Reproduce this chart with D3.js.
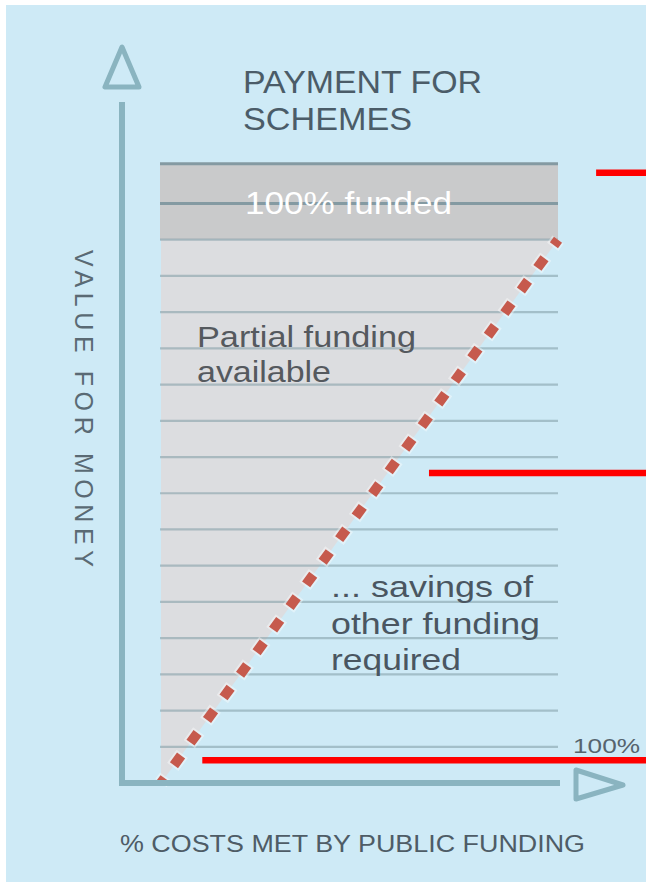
<!DOCTYPE html>
<html>
<head>
<meta charset="utf-8">
<script src="https://cdn.jsdelivr.net/npm/d3@7"></script>
<style>
  html, body { margin: 0; padding: 0; background: #ffffff; }
  svg { display: block; }
  text { font-family: "Liberation Sans", Arial, sans-serif; }
</style>
</head>
<body>
<div id="chart"></div>
<script>
// grid levels of "value for money" (chart units)
const gridLevels = [1, 2, 3, 4, 5, 6, 7, 8, 9, 10, 11, 12, 13, 14, 15]
const bandLines = [16, 17.1]
const fundedBand = [15, 17.1]
// % costs met by public funding vs value threshold
const fundingCost = [0, 100]
const fundingValue = [0, 15]
// red marker bars: value level and where they start (% cost)
const markerValue = [16.85, 8.56, 0.63]
const markerStart = [109.6, 67.5, 10.4]

const W = 646, H = 882
const bg = '#ceeaf6'
const axisColor = '#8ab4c0'

const x = d3.scaleLinear().domain([0, 100]).range([161, 558])
const y = d3.scaleLinear().domain([0, 16]).range([783, 203.5])

const svg = d3.select('#chart')
  .append('svg')
  .attr('width', W)
  .attr('height', H)

svg.append('rect')
  .attr('x', 6).attr('y', 5)
  .attr('width', W - 6).attr('height', H - 5)
  .attr('fill', bg)

// dark "100% funded" band
svg.append('rect')
  .attr('x', x(0) - 1)
  .attr('y', y(fundedBand[1]))
  .attr('width', x(100) - x(0) + 1)
  .attr('height', y(fundedBand[0]) - y(fundedBand[1]))
  .attr('fill', '#c9cacb')

// partial funding area (above the line)
const pts = fundingCost.map((c, i) => [c, fundingValue[i]])
const area = [pts[0], pts[1], [0, fundingValue[1]]]
svg.append('path')
  .attr('d', d3.line().x(d => x(d[0])).y(d => y(d[1]))(area) + 'Z')
  .attr('fill', '#dcdde0')

// grid lines
svg.selectAll('line.grid')
  .data(gridLevels)
  .enter()
  .append('line')
  .attr('class', 'grid')
  .attr('x1', x(0) - 1).attr('x2', x(100))
  .attr('y1', d => y(d)).attr('y2', d => y(d))
  .attr('stroke', '#7f9aa4')
  .attr('stroke-opacity', 0.55)
  .attr('stroke-width', 2.2)

svg.selectAll('line.band')
  .data(bandLines)
  .enter()
  .append('line')
  .attr('class', 'band')
  .attr('x1', x(0) - 1).attr('x2', x(100))
  .attr('y1', d => y(d)).attr('y2', d => y(d))
  .attr('stroke', '#849aa2')
  .attr('stroke-width', 3)

// dashed funding line
const lineGen = d3.line().x(d => x(d[0])).y(d => y(d[1]))
svg.append('path')
  .attr('d', lineGen(pts))
  .attr('fill', 'none')
  .attr('stroke', '#ffffff')
  .attr('stroke-opacity', 0.4)
  .attr('stroke-width', 14)
  .attr('stroke-dasharray', '16 12')
  .attr('stroke-dashoffset', 8)
svg.append('path')
  .attr('d', lineGen(pts))
  .attr('fill', 'none')
  .attr('stroke', '#c65a4d')
  .attr('stroke-width', 10)
  .attr('stroke-dasharray', '12 16')
  .attr('stroke-dashoffset', 6)

// axes
svg.append('line')
  .attr('x1', 122).attr('x2', 122)
  .attr('y1', 102).attr('y2', y(0) + 3)
  .attr('stroke', axisColor).attr('stroke-width', 6)
svg.append('line')
  .attr('x1', 119).attr('x2', x(100) + 2)
  .attr('y1', y(0)).attr('y2', y(0))
  .attr('stroke', axisColor).attr('stroke-width', 6)

svg.append('polygon')
  .attr('points', '122,47 105,87 139,87')
  .attr('fill', 'none')
  .attr('stroke', axisColor).attr('stroke-width', 5)
  .attr('stroke-linejoin', 'round')
svg.append('polygon')
  .attr('points', '576,770 576,799 623,785')
  .attr('fill', 'none')
  .attr('stroke', axisColor).attr('stroke-width', 5)
  .attr('stroke-linejoin', 'round')

// texts
const addText = (t, tx, ty, size, color, len) => {
  return svg.append('text')
    .attr('x', tx).attr('y', ty)
    .attr('font-size', size)
    .attr('fill', color)
    .attr('textLength', len)
    .attr('lengthAdjust', 'spacingAndGlyphs')
    .text(t)
}

addText('PAYMENT FOR', 243, 93, 31, '#4b5c68', 239)
addText('SCHEMES', 243, 130, 31, '#4b5c68', 169)
addText('100% funded', 245, 214, 32, '#ffffff', 207)
addText('Partial funding', 197, 347, 29, '#55595e', 219)
addText('available', 197, 382, 29, '#55595e', 134)
addText('... savings of', 331, 597, 30, '#4a5661', 202)
addText('other funding', 331, 634, 30, '#4a5661', 209)
addText('required', 331, 670, 30, '#4a5661', 130)
addText('100%', 573, 753, 20, '#56646e', 67)
addText('% COSTS MET BY PUBLIC FUNDING', 120, 852, 23, '#4e5c66', 465)

svg.append('text')
  .attr('transform', 'translate(75,250) rotate(90)')
  .attr('font-size', 25)
  .attr('fill', '#5a6a74')
  .attr('textLength', 317)
  .attr('lengthAdjust', 'spacing')
  .text('VALUE FOR MONEY')

// red marker bars
svg.selectAll('line.marker')
  .data(markerValue)
  .enter()
  .append('line')
  .attr('class', 'marker')
  .attr('x1', (d, i) => x(markerStart[i]))
  .attr('x2', W)
  .attr('y1', d => y(d)).attr('y2', d => y(d))
  .attr('stroke', '#ff0000')
  .attr('stroke-width', 6.5)
</script>
</body>
</html>
